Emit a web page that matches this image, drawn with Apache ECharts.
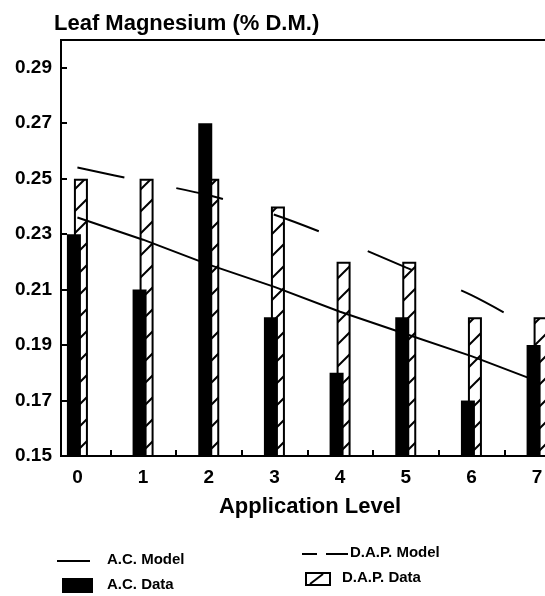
<!DOCTYPE html>
<html>
<head>
<meta charset="utf-8">
<script src="https://cdn.jsdelivr.net/npm/echarts@6/dist/echarts.min.js"></script>
<style>
  html, body { margin: 0; padding: 0; background: #fff; overflow: hidden; }
  /* the drawing surface is wider than the page so the plot's right side runs off the edge */
  #chart { width: 570px; height: 596px; }
</style>
</head>
<body>
<div id="chart"></div>
<script>
// Application levels (x positions of the bar groups)
const levels = [0, 1, 2, 3, 4, 5, 6, 7];
// Measured leaf Mg, % dry matter
const acData  = [0.23, 0.21, 0.27, 0.20, 0.18, 0.20, 0.17, 0.19];
const dapData = [0.25, 0.25, 0.25, 0.24, 0.22, 0.22, 0.20, 0.20];
// Fitted model curves at each level
const acModel  = [0.236, 0.228, 0.219, 0.211, 0.202, 0.194, 0.186, 0.177];
const dapModel = [0.254, 0.249, 0.244, 0.237, 0.228, 0.218, 0.208, 0.195];
// Axis ticks
const yTicks = [0.15, 0.17, 0.19, 0.21, 0.23, 0.25, 0.27, 0.29];
const xMinorTicks = [0.5, 1.5, 2.5, 3.5, 4.5, 5.5, 6.5];

const FONT = '"Liberation Sans", Arial, sans-serif';
const LEGEND_FONT = 'bold 15px "Liberation Sans", Arial, sans-serif';

// Diagonal hatch tile for the D.A.P. bars
function hatchTile() {
  const c = document.createElement('canvas');
  c.width = 22; c.height = 22;
  const g = c.getContext('2d');
  g.fillStyle = '#fff';
  g.fillRect(0, 0, 22, 22);
  g.strokeStyle = '#000';
  g.lineWidth = 2;
  g.beginPath();
  g.moveTo(-2, 24); g.lineTo(24, -2);
  g.stroke();
  return c;
}
const hatch = { image: hatchTile(), repeat: 'repeat' };

const pair = (xs, ys) => xs.map((x, i) => [x, ys[i]]);

const chart = echarts.init(document.getElementById('chart'), null, { renderer: 'canvas' });

chart.setOption({
  animation: false,
  backgroundColor: '#fff',
  title: {
    text: 'Leaf Magnesium (% D.M.)',
    left: 49, top: 8,
    textStyle: { fontFamily: FONT, fontWeight: 'bold', fontSize: 22, color: '#000' }
  },
  grid: {
    left: 61, top: 40, right: 5, height: 416,
    show: true, borderColor: '#000', borderWidth: 2, backgroundColor: 'transparent'
  },
  xAxis: {
    type: 'value',
    min: -0.25, max: 7.425,
    name: 'Application Level',
    nameLocation: 'middle',
    nameGap: 40,
    nameTextStyle: { fontFamily: FONT, fontWeight: 'bold', fontSize: 22, color: '#000', padding: [0, 6, 0, 0] },
    axisLine: { show: true, onZero: false, lineStyle: { color: '#000', width: 2 } },
    axisTick: { show: true, inside: true, length: 6, customValues: xMinorTicks, lineStyle: { color: '#000', width: 2 } },
    axisLabel: {
      customValues: levels, margin: 12,
      fontFamily: FONT, fontWeight: 'bold', fontSize: 19, color: '#000'
    },
    splitLine: { show: false }
  },
  yAxis: {
    type: 'value',
    min: 0.15, max: 0.30,
    axisLine: { show: true, onZero: false, lineStyle: { color: '#000', width: 2 } },
    axisTick: { show: true, inside: true, length: 6, customValues: yTicks, lineStyle: { color: '#000', width: 2 } },
    axisLabel: {
      customValues: yTicks, margin: 9,
      formatter: v => v.toFixed(2),
      fontFamily: FONT, fontWeight: 'bold', fontSize: 19, color: '#000'
    },
    splitLine: { show: false }
  },
  series: [
    {
      name: 'A.C. Data', type: 'bar',
      data: pair(levels, acData),
      barWidth: 14, barGap: '-50%',
      itemStyle: { color: '#000' },
      z: 3
    },
    {
      name: 'D.A.P. Data', type: 'bar',
      data: pair(levels, dapData),
      barWidth: 14,
      itemStyle: { color: hatch, borderColor: '#000', borderWidth: 2 },
      z: 2
    },
    {
      name: 'A.C. Model', type: 'line',
      data: pair(levels, acModel),
      showSymbol: false,
      lineStyle: { color: '#000', width: 2 },
      z: 4
    },
    {
      name: 'D.A.P. Model', type: 'line',
      data: pair(levels, dapModel),
      showSymbol: false, smooth: 0.3,
      lineStyle: { color: '#000', width: 2, type: [48, 53] },
      z: 4
    }
  ],
  graphic: [
    // left legend column
    { type: 'line', shape: { x1: 57, y1: 561, x2: 90, y2: 561 }, style: { stroke: '#000', lineWidth: 2 } },
    { type: 'text', left: 107, top: 552, style: { text: 'A.C. Model', font: LEGEND_FONT, fill: '#000' } },
    { type: 'rect', shape: { x: 62, y: 578, width: 31, height: 15 }, style: { fill: '#000' } },
    { type: 'text', left: 107, top: 577, style: { text: 'A.C. Data', font: LEGEND_FONT, fill: '#000' } },
    // right legend column
    { type: 'line', shape: { x1: 302, y1: 554, x2: 317, y2: 554 }, style: { stroke: '#000', lineWidth: 2 } },
    { type: 'line', shape: { x1: 326, y1: 554, x2: 348, y2: 554 }, style: { stroke: '#000', lineWidth: 2 } },
    { type: 'text', left: 350, top: 545, style: { text: 'D.A.P. Model', font: LEGEND_FONT, fill: '#000' } },
    { type: 'rect', shape: { x: 306, y: 573, width: 24, height: 12 }, style: { fill: '#fff', stroke: '#000', lineWidth: 2 } },
    { type: 'line', shape: { x1: 310, y1: 584, x2: 323, y2: 574 }, style: { stroke: '#000', lineWidth: 2 } },
    { type: 'text', left: 342, top: 570, style: { text: 'D.A.P. Data', font: LEGEND_FONT, fill: '#000' } }
  ]
});
</script>
</body>
</html>
